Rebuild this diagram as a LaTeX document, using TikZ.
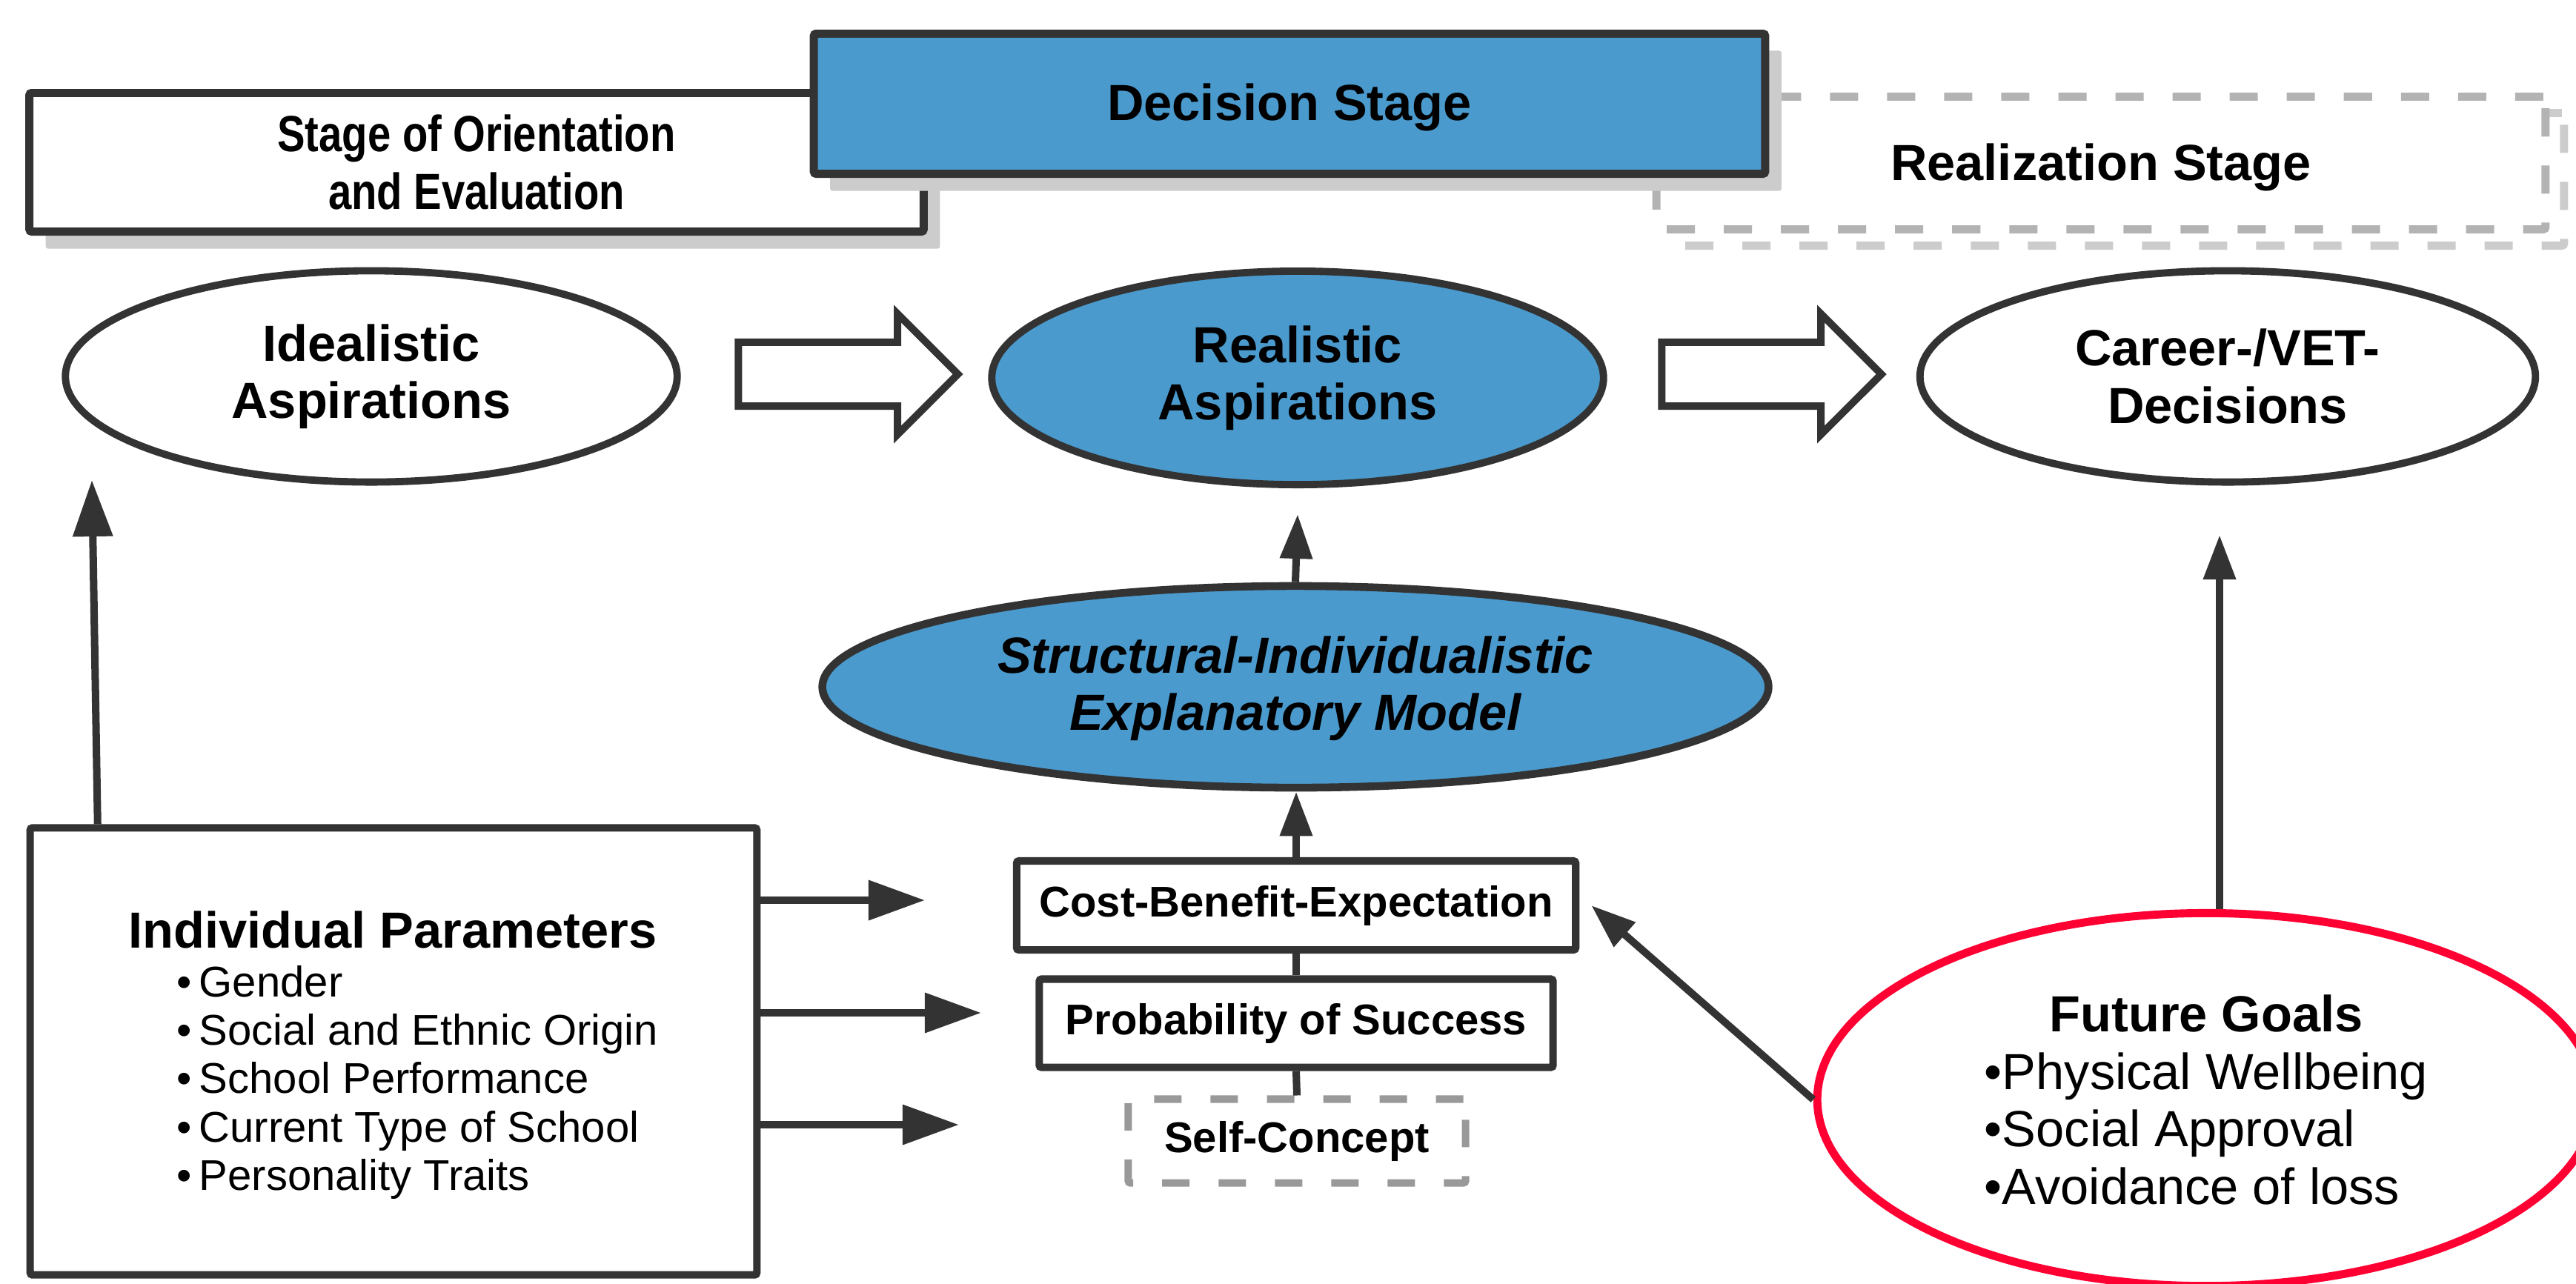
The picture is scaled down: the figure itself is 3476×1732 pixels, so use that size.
\documentclass[tikz,border=0pt]{standalone}
\usepackage{fontspec}
\setmainfont{Liberation Sans}
\newfontfamily\narrowsans{Liberation Sans}[FakeStretch=0.82]
\usepackage{tikz}
\usetikzlibrary{arrows.meta,shapes.geometric,shapes.arrows,shadows}

\definecolor{darkline}{HTML}{333333}
\definecolor{stageblue}{HTML}{4A9ACD}
\definecolor{shadowgray}{HTML}{CCCCCC}
\definecolor{dashgray}{HTML}{B3B3B3}
\definecolor{selfgray}{HTML}{999999}
\definecolor{goalred}{HTML}{FF0033}

\begin{document}
\begin{tikzpicture}[x=0.01cm,y=-0.01cm]
    % Text sizes (one unit is one pixel of the reference)
    \def\largetext{\fontsize{19.5pt}{22pt}\selectfont}
    \def\smalltext{\fontsize{16.5pt}{18.6pt}\selectfont}
    % Style definitions
    \tikzset{
        % boxes of the three stages
        stage box/.style={draw=darkline, line width=3.1pt, rounded corners=0.03cm,
            inner sep=0, align=center, font=\largetext\bfseries},
        stage shadow/.style={drop shadow={shadow xshift=0.22cm, shadow yshift=-0.23cm,
            fill=shadowgray, opacity=1}},
        % ellipses of the aspirations
        aspiration/.style={ellipse, draw=darkline, line width=2.8pt, inner sep=0,
            align=center, font=\largetext\bfseries},
        % boxes of the model
        model box/.style={draw=darkline, line width=2.85pt, rounded corners=0.03cm,
            inner sep=0, align=center, font=\smalltext\bfseries},
        % wide white arrows between the aspirations
        block arrow/.style={single arrow, draw=darkline, fill=white, line width=2.85pt,
            single arrow head extend=0.385cm, inner xsep=0, inner ysep=0.38cm,
            minimum height=2.96cm},
        % plain connectors
        link line/.style={draw=darkline, line width=2.85pt},
        big arrow/.style={link line, -{Triangle[length=0.76cm, width=0.52cm]}},
        small arrow/.style={link line, -{Triangle[length=0.6cm, width=0.42cm]}}
    }
    \useasboundingbox (0,0) rectangle (3476,1732);

    % Stage boxes
    \node[stage box, fill=white, minimum width=11.99cm, minimum height=1.79cm,
        text height=0.62cm, draw=dashgray, dash pattern=on 0.38cm off 0.39cm,
        drop shadow={shadow xshift=0.25cm, shadow yshift=-0.22cm, fill=none,
            draw=shadowgray, line width=3.1pt, dash pattern=on 0.38cm off 0.39cm, opacity=1}]
        (realization) at (2835,220) {Realization Stage};
    \node[stage box, stage shadow, fill=white, minimum width=12.06cm, minimum height=1.87cm,
        font=\largetext\narrowsans\bfseries]
        (orientation) at (643,219) {Stage of Orientation\\and Evaluation};
    \node[stage box, stage shadow, fill=stageblue, minimum width=12.83cm, minimum height=1.89cm,
        text height=0.6cm]
        (decision) at (1740,140) {Decision Stage};

    % Row of aspirations
    \node[aspiration, fill=white, minimum width=8.25cm, minimum height=2.85cm]
        (ideal) at (501,508) {Idealistic\\Aspirations};
    \node[aspiration, fill=stageblue, minimum width=8.25cm, minimum height=2.88cm]
        (real) at (1751,510) {Realistic\\Aspirations};
    \node[aspiration, fill=white, minimum width=8.3cm, minimum height=2.85cm]
        (career) at (3006,508) {Career-/VET-\\Decisions};
    \node[block arrow] (idealtoreal) at (1123,505) {};
    \node[block arrow] (realtocareer) at (2369,505) {};

    % Explanatory model
    \node[aspiration, fill=stageblue, line width=3pt, minimum width=12.76cm, minimum height=2.72cm,
        font=\largetext\bfseries\itshape, text depth=0.1cm]
        (struct) at (1748,927) {Structural-Individualistic\\Explanatory Model};
    \node[model box, fill=white, minimum width=7.54cm, minimum height=1.2cm]
        (cost) at (1749,1222) {Cost-Benefit-Expectation};
    \node[model box, fill=white, minimum width=6.93cm, minimum height=1.19cm]
        (prob) at (1749,1381) {Probability of Success};
    \node[model box, fill=white, draw=selfgray, dash pattern=on 0.37cm off 0.39cm,
        minimum width=4.55cm, minimum height=1.13cm]
        (self) at (1750,1540) {Self-Concept};

    % Individual parameters
    \node[model box, fill=white, minimum width=9.8cm, minimum height=6.03cm, font=\smalltext]
        (indiv) at (531,1419) {\begin{tabular}{@{}l@{}}
            \rule{0pt}{0.68cm}{\largetext\bfseries Individual Parameters}\\
            \hspace{0.65cm}•\,Gender\\
            \hspace{0.65cm}•\,Social and Ethnic Origin\\
            \hspace{0.65cm}•\,School Performance\\
            \hspace{0.65cm}•\,Current Type of School\\
            \hspace{0.65cm}•\,Personality Traits
        \end{tabular}};

    % Future goals
    \node[ellipse, draw=goalred, line width=3.1pt, fill=white, inner sep=0,
        minimum width=10.49cm, minimum height=5.03cm, font=\largetext]
        (future) at (2977,1484) {\begin{tabular}{@{}l@{}}
            \multicolumn{1}{@{}c@{}}{\rule{0pt}{0.73cm}\bfseries Future Goals}\\
            •Physical Wellbeing\\
            •Social Approval\\
            •Avoidance of loss
        \end{tabular}};

    % Free ends of the arrows
    \coordinate (idealtip) at (124,648);
    \coordinate (costtip) at (1248,1215);
    \coordinate (probtip) at (1324,1367);
    \coordinate (selftip) at (1294,1518);
    \coordinate (realtip) at (1751,694);
    \coordinate (careertip) at (2995,722);

    % Edges between nodes
    \draw[big arrow] ([xshift=0.96cm]indiv.north west) -- (idealtip);
    \draw[big arrow] (indiv.east |- costtip) -- (costtip);
    \draw[big arrow] (indiv.east |- probtip) -- (probtip);
    \draw[big arrow] (indiv.east |- selftip) -- (selftip);

    \draw[link line] (cost) -- (prob);
    \draw[link line] (prob.south) -- (self.north);
    \draw[small arrow] (cost.north) -- (cost.north |- struct.south);
    \draw[small arrow] (struct.north) -- (realtip);

    \draw[small arrow] (careertip |- future.north) -- (careertip);
    \draw[small arrow] (future.west) -- ([xshift=0.16cm]cost.east);
\end{tikzpicture}
\end{document}
